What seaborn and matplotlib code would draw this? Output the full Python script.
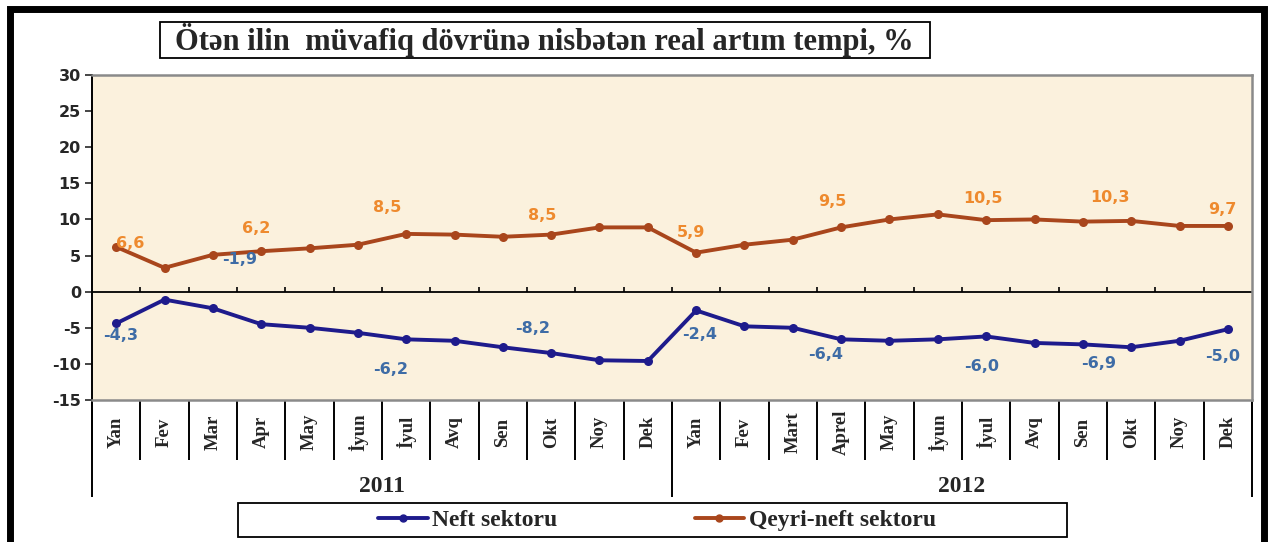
import numpy as np
import pandas as pd
import matplotlib
matplotlib.use('Agg')
import matplotlib.pyplot as plt
import seaborn as sns
from matplotlib.patches import Rectangle
from matplotlib.lines import Line2D

# --- data ---
months_2011 = ['Yan', 'Fev', 'Mar', 'Apr', 'May', 'İyun', 'İyul', 'Avq', 'Sen', 'Okt', 'Noy', 'Dek']
months_2012 = ['Yan', 'Fev', 'Mart', 'Aprel', 'May', 'İyun', 'İyul', 'Avq', 'Sen', 'Okt', 'Noy', 'Dek']
years = ['2011', '2012']

neft = [-4.4, -1.1, -2.3, -4.5, -5.0, -5.7, -6.6, -6.8, -7.7, -8.5, -9.5, -9.6,
        -2.6, -4.8, -5.0, -6.6, -6.8, -6.6, -6.2, -7.1, -7.3, -7.7, -6.8, -5.2]
qeyri_neft = [6.2, 3.3, 5.1, 5.6, 6.0, 6.5, 8.0, 7.9, 7.6, 7.9, 8.9, 8.9,
              5.4, 6.5, 7.2, 8.9, 10.0, 10.7, 9.9, 10.0, 9.7, 9.8, 9.1, 9.1]

# data labels shown on the chart (period values)
neft_label_idx = [0, 2, 6, 9, 12, 15, 18, 21, 23]
neft_labels = ['-4,3', '-1,9', '-6,2', '-8,2', '-2,4', '-6,4', '-6,0', '-6,9', '-5,0']
qeyri_label_idx = [0, 3, 6, 9, 12, 15, 18, 21, 23]
qeyri_labels = ['6,6', '6,2', '8,5', '8,5', '5,9', '9,5', '10,5', '10,3', '9,7']

title = 'Ötən ilin  müvafiq dövrünə nisbətən real artım tempi, %'
series_names = ['Neft sektoru', 'Qeyri-neft sektoru']

# --- styling ---
blue_line = '#1E1B8C'
brown_line = '#A9461C'
blue_text = '#3E6CA6'
orange_text = '#EE8A2E'
# label offsets (pixels, right / down) from their points
neft_offsets = [(4, 12), (27, -49), (-16, 30), (-19, -25), (3, 24), (-16, 15), (-5, 30), (-33, 16), (-5, 27)]
qeyri_offsets = [(14, -3), (-5, -23), (-19, -26), (-9, -19), (-5, -20), (-9, -26), (-3, -22), (-21, -23), (-6, -16)]

W, H = 1269, 542
sns.set_style('white')
plt.rcParams['axes.unicode_minus'] = False
serif = ['Liberation Serif', 'DejaVu Serif']
sans = ['DejaVu Sans']


def fx(px):
    return px / W


def fy(py):
    return 1 - py / H


fig = plt.figure(figsize=(W / 100, H / 100), dpi=100)
fig.patch.set_facecolor('white')
ax = fig.add_axes([fx(92), fy(400), fx(1252) - fx(92), fy(75) - fy(400)])
ax.set_facecolor('#FBF1DD')

pos = np.arange(len(months_2011) + len(months_2012))
df = pd.DataFrame({'pos': pos, series_names[0]: neft, series_names[1]: qeyri_neft})
df = df.melt(id_vars='pos', var_name='series', value_name='value')

palette = {series_names[0]: blue_line, series_names[1]: brown_line}
sns.lineplot(data=df, x='pos', y='value', hue='series', palette=palette,
             marker='o', markersize=6.5, markeredgewidth=0, linewidth=2.8,
             legend=False, ax=ax, zorder=3)

ax.set_xlim(-0.5, 23.5)
ax.set_ylim(-15, 30)
ax.set_xlabel('')
ax.set_ylabel('')

# y axis
ax.set_yticks(range(-15, 31, 5))
ax.tick_params(axis='y', direction='out', length=5, width=1.2, pad=3, left=True)
for t in ax.get_yticklabels():
    t.set_fontfamily(sans)
    t.set_fontweight('bold')
    t.set_fontsize(11.5)

# x axis labels (months) centred below the plot area
ax.set_xticks(pos)
ax.set_xticklabels(months_2011 + months_2012, rotation=90)
ax.tick_params(axis='x', length=0, pad=23)
for t in ax.get_xticklabels():
    t.set_fontfamily(serif)
    t.set_fontweight('bold')
    t.set_fontsize(13.5)
    t.set_va('center')

for side in ['top', 'right', 'bottom']:
    ax.spines[side].set_color('#8A8A8A')
    ax.spines[side].set_linewidth(1.8)
ax.spines['left'].set_color('black')
ax.spines['left'].set_linewidth(1.4)

# zero line with small ticks between categories
ax.axhline(0, color='black', lw=1.3, zorder=2)
ax.vlines(np.arange(0.5, 23, 1), 0, 0.7, color='black', lw=1.2, zorder=2)

# category separators and year groups
xt = ax.get_xaxis_transform()
ax.vlines(np.arange(-0.5, 24, 1), 0, -60 / 325, transform=xt, clip_on=False, color='black', lw=1.4)
ax.vlines([-0.5, 11.5, 23.5], 0, -97 / 325, transform=xt, clip_on=False, color='black', lw=1.4)
ax.text(5.5, -87 / 325, years[0], transform=xt, ha='center', va='center',
        family=serif, fontweight='bold', fontsize=17)
ax.text(17.5, -87 / 325, years[1], transform=xt, ha='center', va='center',
        family=serif, fontweight='bold', fontsize=17)

# data labels
for i, txt, (dx, dy) in zip(qeyri_label_idx, qeyri_labels, qeyri_offsets):
    ax.annotate(txt, (i, qeyri_neft[i]), xytext=(dx * 0.72, -dy * 0.72), textcoords='offset points',
                ha='center', va='center', color=orange_text, fontsize=11.5, fontweight='bold',
                family=sans, zorder=4)
for i, txt, (dx, dy) in zip(neft_label_idx, neft_labels, neft_offsets):
    ax.annotate(txt, (i, neft[i]), xytext=(dx * 0.72, -dy * 0.72), textcoords='offset points',
                ha='center', va='center', color=blue_text, fontsize=11.5, fontweight='bold',
                family=sans, zorder=4)

# title in a box
fig.add_artist(Rectangle((fx(160), fy(58)), fx(930) - fx(160), fy(22) - fy(58),
                         transform=fig.transFigure, fill=True, fc='white', ec='black', lw=1.3))
fig.text(fx(544), fy(40), title, ha='center', va='center', family=serif,
         fontweight='bold', fontsize=22)

# legend in a box
fig.add_artist(Rectangle((fx(238), fy(537)), fx(1067) - fx(238), fy(503) - fy(537),
                         transform=fig.transFigure, fill=True, fc='white', ec='black', lw=1.3))
handles = [Line2D([], [], color=blue_line, lw=2.8, marker='o', markersize=5),
           Line2D([], [], color=brown_line, lw=2.8, marker='o', markersize=5)]
fig.legend(handles, series_names, loc='center', bbox_to_anchor=(fx(657), fy(520)), ncol=2,
           frameon=False, handlelength=2.1, handletextpad=0.2, columnspacing=5.8,
           prop={'family': serif, 'weight': 'bold', 'size': 17})

# outer black frame
fig.add_artist(Rectangle((fx(10), fy(570)), fx(1264) - fx(10), fy(9) - fy(570),
                         transform=fig.transFigure, fill=False, ec='black', lw=5, clip_on=False))

fig.savefig('out.png', dpi=100)
